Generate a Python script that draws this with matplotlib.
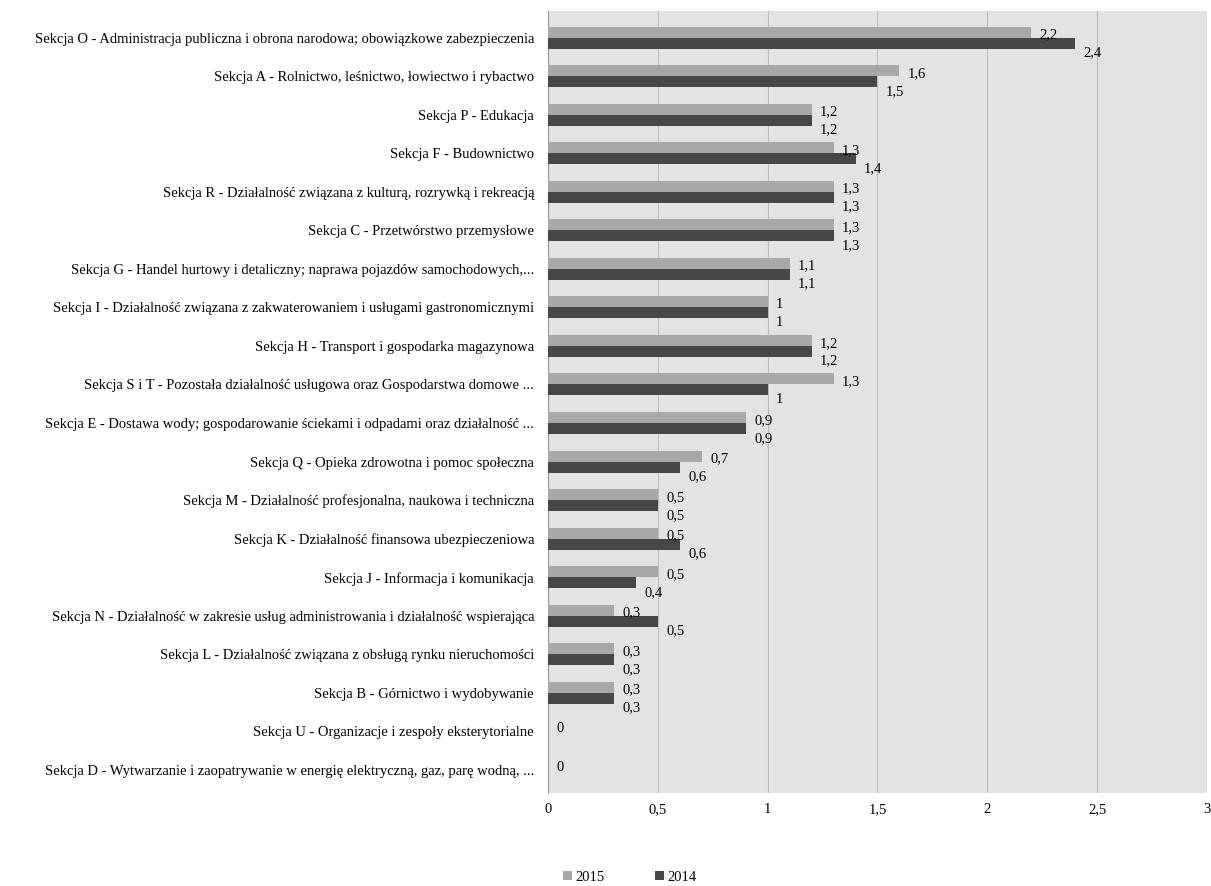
import matplotlib
matplotlib.use('Agg')
from matplotlib import pyplot as plt
import numpy as np

categories = [
    'Sekcja O - Administracja publiczna i obrona narodowa; obowiązkowe zabezpieczenia',
    'Sekcja A - Rolnictwo, leśnictwo, łowiectwo i rybactwo',
    'Sekcja P - Edukacja',
    'Sekcja F - Budownictwo',
    'Sekcja R - Działalność związana z kulturą, rozrywką i rekreacją',
    'Sekcja C - Przetwórstwo przemysłowe',
    'Sekcja G - Handel hurtowy i detaliczny; naprawa pojazdów samochodowych,...',
    'Sekcja I - Działalność związana z zakwaterowaniem i usługami gastronomicznymi',
    'Sekcja H - Transport i gospodarka magazynowa',
    'Sekcja S i T - Pozostała działalność usługowa oraz Gospodarstwa domowe ...',
    'Sekcja E - Dostawa wody; gospodarowanie ściekami i odpadami oraz działalność ...',
    'Sekcja Q - Opieka zdrowotna i pomoc społeczna',
    'Sekcja M - Działalność profesjonalna, naukowa i techniczna',
    'Sekcja K - Działalność finansowa ubezpieczeniowa',
    'Sekcja J - Informacja i komunikacja',
    'Sekcja N - Działalność w zakresie usług administrowania i działalność wspierająca',
    'Sekcja L - Działalność związana z obsługą rynku nieruchomości',
    'Sekcja B - Górnictwo i wydobywanie',
    'Sekcja U - Organizacje i zespoły eksterytorialne',
    'Sekcja D - Wytwarzanie i zaopatrywanie w energię elektryczną, gaz, parę wodną, ...',
]
values_2015 = [2.2, 1.6, 1.2, 1.3, 1.3, 1.3, 1.1, 1.0, 1.2, 1.3,
               0.9, 0.7, 0.5, 0.5, 0.5, 0.3, 0.3, 0.3, 0, 0]
values_2014 = [2.4, 1.5, 1.2, 1.4, 1.3, 1.3, 1.1, 1.0, 1.2, 1.0,
               0.9, 0.6, 0.5, 0.6, 0.4, 0.5, 0.3, 0.3, 0, 0]
series_names = ['2015', '2014']
x_ticks = [0, 0.5, 1, 1.5, 2, 2.5, 3]


def fmt(v):
    s = ('%.1f' % v).rstrip('0').rstrip('.')
    return s.replace('.', ',')


plt.rcParams['font.family'] = ['Liberation Serif', 'DejaVu Serif']
fs = 10.5

fig = plt.figure(figsize=(12.11, 8.86), dpi=100)
ax = fig.add_axes([0.4525, 0.105, 0.5442, 0.883])
ax.set_facecolor('#e3e3e3')

y = np.arange(len(categories))
h = 0.285
c15 = '#a8a8a8'
c14 = '#474747'
ax.barh(y - h / 2, values_2015, height=h, color=c15, label=series_names[0], zorder=3)
ax.barh(y + h / 2, values_2014, height=h, color=c14, label=series_names[1], zorder=3)

for i in range(len(categories)):
    ax.annotate(fmt(values_2015[i]), (values_2015[i], y[i] - h / 2),
                xytext=(6, -2), textcoords='offset points',
                ha='left', va='center', fontsize=fs, zorder=4)
    if values_2014[i] > 0 or values_2015[i] > 0:
        ax.annotate(fmt(values_2014[i]), (values_2014[i], y[i] + h / 2),
                    xytext=(6, -7), textcoords='offset points',
                    ha='left', va='center', fontsize=fs, zorder=4)

ax.set_xlim(0, 3)
ax.set_ylim(len(categories) - 0.4, -0.7)
ax.set_xticks(x_ticks)
ax.set_xticklabels([fmt(t) for t in x_ticks], fontsize=fs)
ax.set_yticks(y)
ax.set_yticklabels(categories, fontsize=fs)
ax.tick_params(axis='both', length=0)
ax.tick_params(axis='y', pad=10)
ax.tick_params(axis='x', pad=7)
ax.grid(axis='x', color='#bcbcbc', linewidth=0.8, zorder=0)
for s in ['top', 'right', 'bottom']:
    ax.spines[s].set_visible(False)
ax.spines['left'].set_color('#9a9a9a')
ax.spines['left'].set_linewidth(0.8)

handles, labels = ax.get_legend_handles_labels()
fig.legend(handles, labels, loc='lower center', bbox_to_anchor=(0.52, -0.012),
           ncol=2, frameon=False, fontsize=fs, handlelength=0.6,
           handleheight=0.6, handletextpad=0.2, columnspacing=3.5)

fig.savefig('out.png', dpi=100)
